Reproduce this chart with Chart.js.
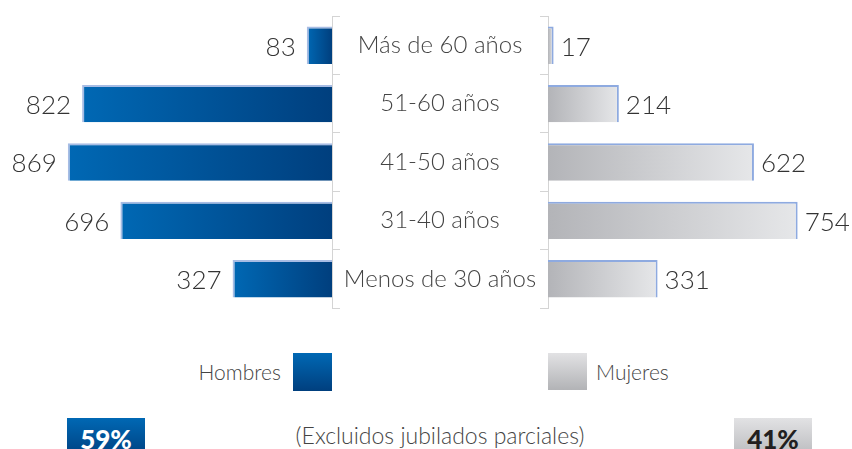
<!DOCTYPE html>
<html>
<head>
    <meta charset="utf-8">
    <title>Jubilados por edad y sexo</title>
    <script src="https://cdn.jsdelivr.net/npm/chart.js"></script>
    <style>
        body {
            margin: 0;
            padding: 0;
            background: #ffffff;
            font-family: 'Lato', 'DejaVu Sans', sans-serif;
            color: #333333;
        }
        #wrap {
            position: relative;
            width: 852px;
            height: 449px;
            overflow: hidden;
        }
        canvas {
            position: absolute;
            top: 0;
        }
        #left-chart { left: 0; }
        #right-chart { left: 312px; }
        .legend-text {
            position: absolute;
            top: 358px;
            font-size: 21px;
            font-weight: 300;
            color: #444444;
            line-height: 28px;
        }
        .swatch {
            position: absolute;
            top: 353px;
            width: 39px;
            height: 38px;
        }
        .pct {
            position: absolute;
            top: 418px;
            width: 78px;
            height: 40px;
            font-size: 26px;
            font-weight: 900;
            text-align: center;
            line-height: 42px;
        }
        #note {
            position: absolute;
            top: 421px;
            left: 240px;
            width: 400px;
            text-align: center;
            font-size: 23px;
            font-weight: 300;
            color: #444444;
        }
    </style>
</head>
<body>
    <div id="wrap">
        <canvas id="left-chart" width="352" height="320"></canvas>
        <canvas id="right-chart" width="540" height="320"></canvas>

        <div class="legend-text" id="lbl-h" style="left: 150px; width: 131px; text-align: right;"></div>
        <div class="swatch" style="left: 293px; background: linear-gradient(#0068b4, #003f7e);"></div>
        <div class="swatch" style="left: 548px; height: 37px; background: linear-gradient(#e2e2e4, #b2b3b6);"></div>
        <div class="legend-text" id="lbl-m" style="left: 596px;"></div>

        <div class="pct" id="pct-h" style="left: 67px; color: #ffffff; background: linear-gradient(#0068b4, #003f7e);"></div>
        <div id="note">(Excluidos jubilados parciales)</div>
        <div class="pct" id="pct-m" style="left: 734px; color: #231f20; background: linear-gradient(#e2e2e4, #b8b9bc);"></div>
    </div>

    <script>
        const categorias = ['Más de 60 años', '51-60 años', '41-50 años', '31-40 años', 'Menos de 30 años'];
        const series = ['Hombres', 'Mujeres'];
        const hombres = [83, 822, 869, 696, 327];
        const mujeres = [17, 214, 622, 754, 331];

        const sepColor = '#d4d4d4';
        const fontFamily = 'Lato, "DejaVu Sans", sans-serif';
        const labelFont = '300 26px ' + fontFamily;
        const catFont = { family: fontFamily, size: 24, weight: 300 };

        // gradient per bar, from the outer end to the base
        function barGradient(from, to) {
            return (c) => {
                const chart = c.chart;
                if (!chart.chartArea || c.type !== 'data') return from;
                const x = chart.scales.x;
                const g = chart.ctx.createLinearGradient(x.getPixelForValue(c.raw), 0, x.getPixelForValue(0), 0);
                g.addColorStop(0, from);
                g.addColorStop(1, to);
                return g;
            };
        }

        // numbers next to the bars
        const valueLabels = {
            id: 'valueLabels',
            afterDatasetsDraw(chart, args, opts) {
                const ctx = chart.ctx;
                const meta = chart.getDatasetMeta(0);
                const values = chart.data.datasets[0].data;
                ctx.save();
                ctx.font = labelFont;
                ctx.fillStyle = '#333333';
                ctx.textBaseline = 'middle';
                ctx.textAlign = opts.side === 'left' ? 'right' : 'left';
                meta.data.forEach((bar, i) => {
                    const x = opts.side === 'left' ? bar.x - opts.gap : bar.x + opts.gap;
                    ctx.fillText(values[i], x, bar.y + 2);
                });
                ctx.restore();
            }
        };

        // keep the plot height the same on both sides
        function noPad(s) {
            s.paddingTop = 0;
            s.paddingBottom = 0;
        }

        // centre the category names in the gap between the two charts
        function centreLabels(s) {
            const ctx = s.chart.ctx;
            ctx.save();
            ctx.font = `${catFont.weight} ${catFont.size}px ${catFont.family}`;
            const widest = Math.max(...categorias.map(t => ctx.measureText(t).width));
            ctx.restore();
            s.options.ticks.padding = 108 - 8 - widest / 2;
        }

        new Chart(document.getElementById('left-chart'), {
            type: 'bar',
            data: {
                labels: categorias,
                datasets: [{
                    label: series[0],
                    data: hombres,
                    backgroundColor: barGradient('#0068b4', '#003f7e'),
                    borderColor: '#a7bce4',
                    borderWidth: { top: 2, left: 2, right: 0, bottom: 0 },
                    borderSkipped: false,
                    barPercentage: 0.64,
                    categoryPercentage: 1
                }]
            },
            options: {
                indexAxis: 'y',
                responsive: false,
                animation: false,
                devicePixelRatio: 1,
                layout: { padding: { left: 28, right: 0, top: 16, bottom: 12 } },
                plugins: {
                    legend: { display: false },
                    tooltip: { enabled: false },
                    valueLabels: { side: 'left', gap: 11 }
                },
                scales: {
                    x: { reverse: true, min: 0, max: 1000, display: false },
                    y: {
                        position: 'right',
                        grid: { drawOnChartArea: false, color: sepColor, tickLength: 8, offset: true },
                        border: { color: sepColor },
                        ticks: { display: false },
                        afterFit: (s) => { s.width = 20; noPad(s); }
                    }
                }
            },
            plugins: [valueLabels]
        });

        new Chart(document.getElementById('right-chart'), {
            type: 'bar',
            data: {
                labels: categorias,
                datasets: [{
                    label: series[1],
                    data: mujeres,
                    backgroundColor: barGradient('#e6e7e9', '#b3b4b8'),
                    borderColor: '#8eaae0',
                    borderWidth: { top: 2, right: 2, left: 0, bottom: 0 },
                    borderSkipped: false,
                    barPercentage: 0.64,
                    categoryPercentage: 1
                }]
            },
            options: {
                indexAxis: 'y',
                responsive: false,
                animation: false,
                devicePixelRatio: 1,
                layout: { padding: { left: 0, right: 6, top: 16, bottom: 12 } },
                plugins: {
                    legend: { display: false },
                    tooltip: { enabled: false },
                    valueLabels: { side: 'right', gap: 7 }
                },
                scales: {
                    x: { min: 0, max: 900, display: false },
                    y: {
                        position: 'left',
                        grid: { drawOnChartArea: false, color: sepColor, tickLength: 8, offset: true },
                        border: { color: sepColor },
                        ticks: {
                            color: '#444444',
                            font: catFont,
                            crossAlign: 'center',
                            padding: 8
                        },
                        beforeFit: centreLabels,
                        afterFit: (s) => { s.width = 236; noPad(s); }
                    }
                }
            },
            plugins: [valueLabels]
        });

        const totH = hombres.reduce((a, b) => a + b, 0);
        const totM = mujeres.reduce((a, b) => a + b, 0);
        document.getElementById('lbl-h').textContent = series[0];
        document.getElementById('lbl-m').textContent = series[1];
        document.getElementById('pct-h').textContent = Math.round(totH / (totH + totM) * 100) + '%';
        document.getElementById('pct-m').textContent = Math.round(totM / (totH + totM) * 100) + '%';
    </script>
</body>
</html>
